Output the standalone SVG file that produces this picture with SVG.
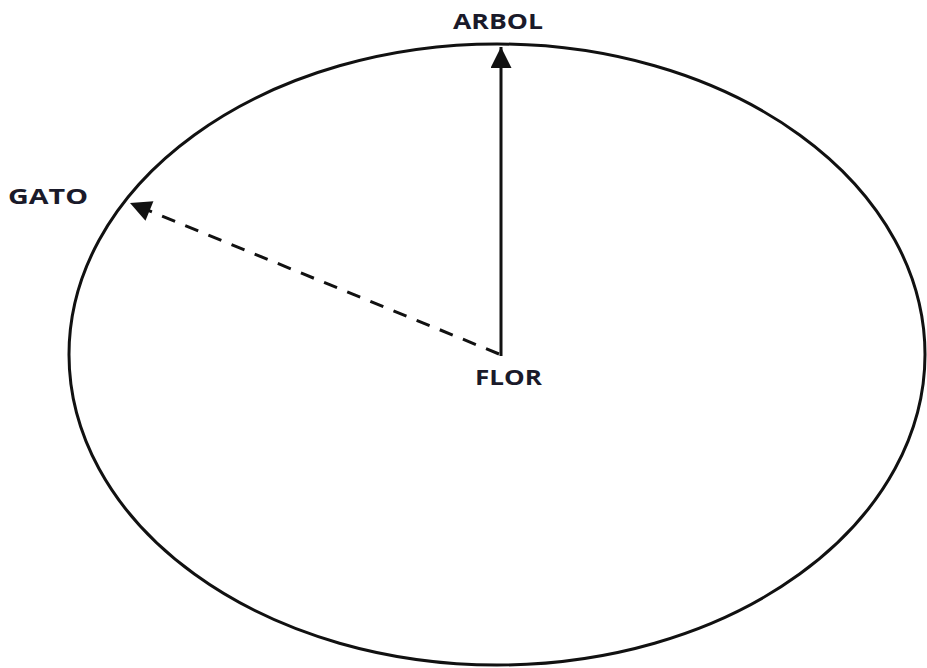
<svg xmlns="http://www.w3.org/2000/svg" width="927" height="668" viewBox="0 0 927 668">
<style>
.lbl{font-family:"Open Sans","DejaVu Sans",sans-serif;font-weight:bold;font-size:22px;fill:#1a1a2a}
.edge{stroke:#111;stroke-width:3;fill:none}
</style>
<defs>
<marker id="ah" viewBox="0 0 10 10" refX="10" refY="5" markerWidth="7.5" markerHeight="7" markerUnits="strokeWidth" orient="auto">
<path d="M0,0 L10,5 L0,10 z" fill="#111"/>
</marker>
</defs>
<rect width="927" height="668" fill="#fff"/>
<g id="circle">
<ellipse cx="497" cy="354.5" rx="428" ry="310.5" fill="none" stroke="#111" stroke-width="3"/>
</g>
<g id="connectors">
<path class="edge" d="M501,356 L501,47" marker-end="url(#ah)"/>
<path class="edge" d="M499,354 L130,203" stroke-width="3.5" stroke-dasharray="14,11" marker-end="url(#ah)"/>
</g>
<g id="arbol"><text class="lbl" x="453" y="29" textLength="90" lengthAdjust="spacingAndGlyphs">ARBOL</text></g>
<g id="gato"><text class="lbl" x="8" y="204" textLength="80" lengthAdjust="spacingAndGlyphs">GATO</text></g>
<g id="flor"><text class="lbl" x="475" y="385" textLength="67" lengthAdjust="spacingAndGlyphs">FLOR</text></g>
</svg>
